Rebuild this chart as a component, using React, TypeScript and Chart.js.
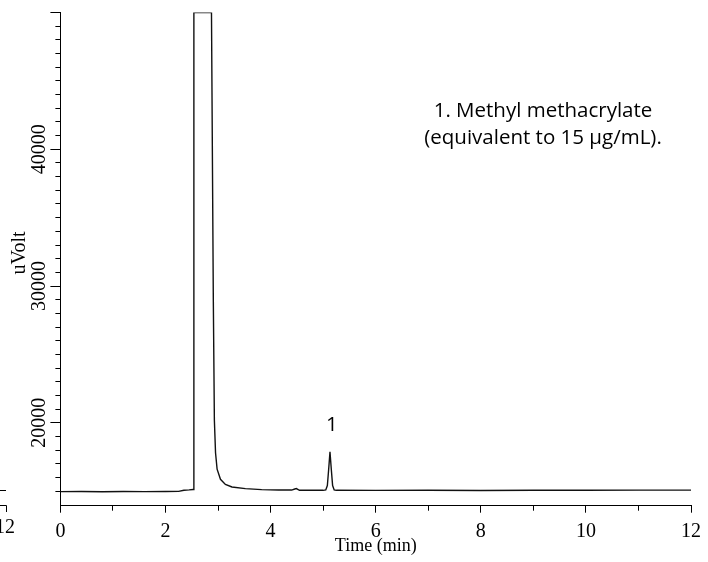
import { useEffect, useRef } from "react";
import { Chart, registerables } from "chart.js";

Chart.register(...registerables);

// ---- data ----
const TIME_MIN: number[] = [
  0.0, 0.4, 0.8, 1.2, 1.6, 2.0, 2.25, 2.35, 2.45, 2.525, 2.54, 2.875, 2.91, 2.93,
  2.952, 2.982, 3.046, 3.14, 3.265, 3.52, 3.83, 4.15, 4.4, 4.46, 4.49, 4.55, 5.0,
  5.05, 5.08, 5.105, 5.13, 5.155, 5.18, 5.21, 5.25, 6.0, 7.0, 8.0, 9.0, 10.0, 11.0, 12.0,
];
const SIGNAL_UV: number[] = [
  14960, 14970, 14955, 14965, 14960, 14970, 14980, 15060, 15090, 15120, 50000, 50000, 29000, 20200,
  17800, 16600, 15860, 15490, 15300, 15180, 15105, 15075, 15075, 15150, 15180, 15060, 15055,
  15080, 15400, 16600, 17870, 16600, 15400, 15080, 15055, 15050, 15060, 15045, 15055, 15060, 15070, 15070,
];

const X_MIN = 0;
const X_MAX = 12;
const X_MAJOR_TICKS = [0, 2, 4, 6, 8, 10, 12];
const Y_MIN = 13930;
const Y_MAX = 50000;
const Y_MAJOR_TICKS = [20000, 30000, 40000, 50000];
const Y_LABELLED_TICKS = [20000, 30000, 40000];

const X_TITLE = "Time (min)";
const Y_TITLE = "uVolt";
const PEAK_LABELS = ["1"];
const PEAK_INDEX = [30];
const NOTE_LINES = ["1. Methyl methacrylate", "(equivalent to 15 µg/mL)."];

const SERIF = '"Liberation Serif", "Times New Roman", serif';
const SANS = '"Open Sans", Lato, sans-serif';

function rangeTicks(a: number, b: number, step: number) {
  const out: { value: number }[] = [];
  for (let v = a; v <= b + 1e-9; v += step) out.push({ value: Math.round(v * 1000) / 1000 });
  return out;
}

export default function App() {
  const ref = useRef<HTMLCanvasElement>(null);

  useEffect(() => {
    const canvas = ref.current;
    if (!canvas) return;

    const extras = {
      id: "extras",
      afterDraw(chart: any) {
        const ctx = chart.ctx as CanvasRenderingContext2D;
        const yMajor = chart.scales.yMajor;
        const xs = chart.scales.x;
        const ys = chart.scales.y;
        ctx.save();
        ctx.fillStyle = "#000";
        ctx.strokeStyle = "#000";

        // rotated y tick labels
        ctx.font = `20px ${SERIF}`;
        ctx.textAlign = "center";
        ctx.textBaseline = "middle";
        yMajor.ticks.forEach((tk: any) => {
          if (!Y_LABELLED_TICKS.includes(tk.value)) return;
          const py = yMajor.getPixelForValue(tk.value);
          ctx.save();
          ctx.translate(40, py);
          ctx.rotate(-Math.PI / 2);
          ctx.fillText(String(tk.label), 0, 0);
          ctx.restore();
        });

        // y title
        ctx.save();
        ctx.translate(20, 253);
        ctx.rotate(-Math.PI / 2);
        ctx.fillText(Y_TITLE, 0, 0);
        ctx.restore();

        // peak labels
        ctx.font = `20.5px ${SANS}`;
        PEAK_LABELS.forEach((lab, i) => {
          const idx = PEAK_INDEX[i];
          const px = xs.getPixelForValue(TIME_MIN[idx]);
          const py = ys.getPixelForValue(SIGNAL_UV[idx]);
          ctx.fillText(lab, px + 2, py - 27);
        });

        // note
        ctx.textBaseline = "alphabetic";
        NOTE_LINES.forEach((line, i) => {
          ctx.fillText(line, 543, 117 + i * 27);
        });

        // fragment of neighbouring panel at the left edge
        ctx.lineWidth = 1;
        ctx.beginPath();
        ctx.moveTo(0, 490.5);
        ctx.lineTo(6, 490.5);
        ctx.moveTo(0, 505.5);
        ctx.lineTo(6.5, 505.5);
        ctx.lineTo(6.5, 512);
        ctx.stroke();
        ctx.font = `20px ${SERIF}`;
        ctx.textAlign = "right";
        ctx.textBaseline = "middle";
        ctx.fillText("12", 15, 528);
        ctx.restore();
      },
    };

    const tickFont = { family: SERIF, size: 20 };

    const chart = new Chart(canvas, {
      type: "line",
      data: {
        datasets: [
          {
            data: TIME_MIN.map((t, i) => ({ x: t, y: SIGNAL_UV[i] })),
            borderColor: "#111",
            borderWidth: 1.4,
            pointRadius: 0,
            tension: 0,
            fill: false,
            xAxisID: "x",
            yAxisID: "y",
          },
        ],
      },
      options: {
        responsive: false,
        animation: false,
        events: [],
        layout: { padding: { top: 12.6, right: 10, bottom: 0, left: 0 } },
        plugins: { legend: { display: false }, tooltip: { enabled: false } },
        scales: {
          x: {
            type: "linear",
            position: "bottom",
            weight: 0,
            min: X_MIN,
            max: X_MAX,
            afterBuildTicks: (s: any) => {
              s.ticks = rangeTicks(X_MIN, X_MAX, 1);
            },
            ticks: { display: false },
            grid: { drawOnChartArea: false, tickLength: 5, color: "#000", tickColor: "#000" },
            border: { display: true, color: "#000", width: 1 },
            afterFit: (s: any) => {
              s.height = 0;
            },
          },
          xMajor: {
            type: "linear",
            position: "bottom",
            weight: 1,
            min: X_MIN,
            max: X_MAX,
            afterBuildTicks: (s: any) => {
              s.ticks = X_MAJOR_TICKS.map((v) => ({ value: v }));
            },
            ticks: {
              color: "#000",
              font: tickFont,
              padding: 7,
              maxRotation: 0,
              autoSkip: false,
              callback: (v: any) => String(v),
            },
            grid: { drawOnChartArea: false, tickLength: 7, color: "#000", tickColor: "#000" },
            border: { display: true, color: "#000", width: 1 },
            title: {
              display: true,
              text: X_TITLE,
              color: "#000",
              font: { family: SERIF, size: 18 },
              padding: { top: 0, bottom: 5 },
            },
            afterFit: (s: any) => {
              s.height = 56.3;
            },
          },
          y: {
            type: "linear",
            position: "left",
            weight: 0,
            min: Y_MIN,
            max: Y_MAX,
            afterBuildTicks: (s: any) => {
              s.ticks = rangeTicks(15000, Y_MAX, 1000);
            },
            ticks: { display: false },
            grid: { drawOnChartArea: false, tickLength: 5, color: "#000", tickColor: "#000" },
            border: { display: true, color: "#000", width: 1 },
            afterFit: (s: any) => {
              s.width = 0;
            },
          },
          yMajor: {
            type: "linear",
            position: "left",
            weight: 1,
            min: Y_MIN,
            max: Y_MAX,
            afterBuildTicks: (s: any) => {
              s.ticks = Y_MAJOR_TICKS.map((v) => ({ value: v }));
            },
            ticks: { display: false, callback: (v: any) => String(v) },
            grid: { drawOnChartArea: false, tickLength: 10, color: "#000", tickColor: "#000" },
            border: { display: true, color: "#000", width: 1 },
            afterFit: (s: any) => {
              s.width = 60.4;
            },
          },
        },
      },
      plugins: [extras],
    } as any);

    return () => chart.destroy();
  }, []);

  return (
    <div style={{ position: "fixed", left: 0, top: 0, width: 708, height: 562, background: "#fff" }}>
      <canvas ref={ref} width={708} height={562} style={{ display: "block" }} />
    </div>
  );
}
